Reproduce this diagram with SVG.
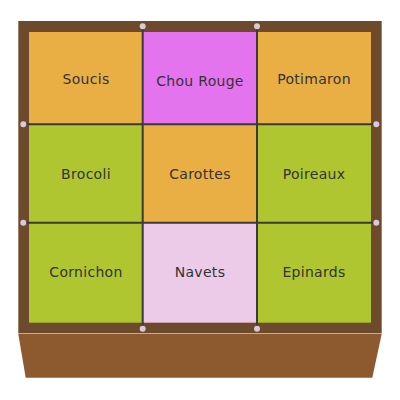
<svg xmlns="http://www.w3.org/2000/svg" width="400" height="400" viewBox="0 0 400 400">
<style>
.o{fill:#e9af45}.m{fill:#e474ee}.g{fill:#afc631}.p{fill:#eccbe9}
.t{font-family:"Comic Sans MS","DejaVu Sans",sans-serif;font-size:14px;fill:#333;text-anchor:middle;letter-spacing:0.3px}
.d{fill:#d9c9d9}
</style>
<rect x="0" y="0" width="400" height="400" fill="#ffffff"/>
<g id="base">
<polygon points="18.3,334 381.7,334 372.3,377.7 25.7,377.7" fill="#8c5a2e"/>
<line x1="18.3" y1="333.5" x2="381.7" y2="333.5" stroke="#c4ad92" stroke-width="1"/>
</g>
<g id="frame"><rect x="18.3" y="21" width="363.4" height="312" fill="#6d4a2b"/></g>
<g id="soucis"><rect class="o" x="29" y="32" width="114" height="92.3"/><text class="t" x="86" y="84">Soucis</text></g>
<g id="chou-rouge"><rect class="m" x="143" y="32" width="114" height="92.3"/><text class="t" x="200" y="86">Chou Rouge</text></g>
<g id="potimaron"><rect class="o" x="257" y="32" width="114" height="92.3"/><text class="t" x="314" y="84">Potimaron</text></g>
<g id="brocoli"><rect class="g" x="29" y="124.3" width="114" height="98.4"/><text class="t" x="86" y="179">Brocoli</text></g>
<g id="carottes"><rect class="o" x="143" y="124.3" width="114" height="98.4"/><text class="t" x="200" y="179">Carottes</text></g>
<g id="poireaux"><rect class="g" x="257" y="124.3" width="114" height="98.4"/><text class="t" x="314" y="179">Poireaux</text></g>
<g id="cornichon"><rect class="g" x="29" y="222.7" width="114" height="100"/><text class="t" x="86" y="277">Cornichon</text></g>
<g id="navets"><rect class="p" x="143" y="222.7" width="114" height="100"/><text class="t" x="200" y="277">Navets</text></g>
<g id="epinards"><rect class="g" x="257" y="222.7" width="114" height="100"/><text class="t" x="314" y="277">Epinards</text></g>
<g id="connectors" stroke="#3a3a3a" stroke-width="2">
<line x1="142.7" y1="26.3" x2="142.7" y2="328.7"/>
<line x1="257" y1="26.3" x2="257" y2="328.7"/>
<line x1="23.3" y1="124.3" x2="376.3" y2="124.3"/>
<line x1="23.3" y1="222.7" x2="376.3" y2="222.7"/>
</g>
<g id="dots">
<circle class="d" cx="142.7" cy="26.3" r="3"/><circle class="d" cx="257" cy="26.3" r="3"/>
<circle class="d" cx="23.3" cy="124.3" r="3"/><circle class="d" cx="23.3" cy="222.7" r="3"/>
<circle class="d" cx="376.3" cy="124.3" r="3"/><circle class="d" cx="376.3" cy="222.7" r="3"/>
<circle class="d" cx="142.7" cy="328.7" r="3"/><circle class="d" cx="257" cy="328.7" r="3"/>
</g>
</svg>
